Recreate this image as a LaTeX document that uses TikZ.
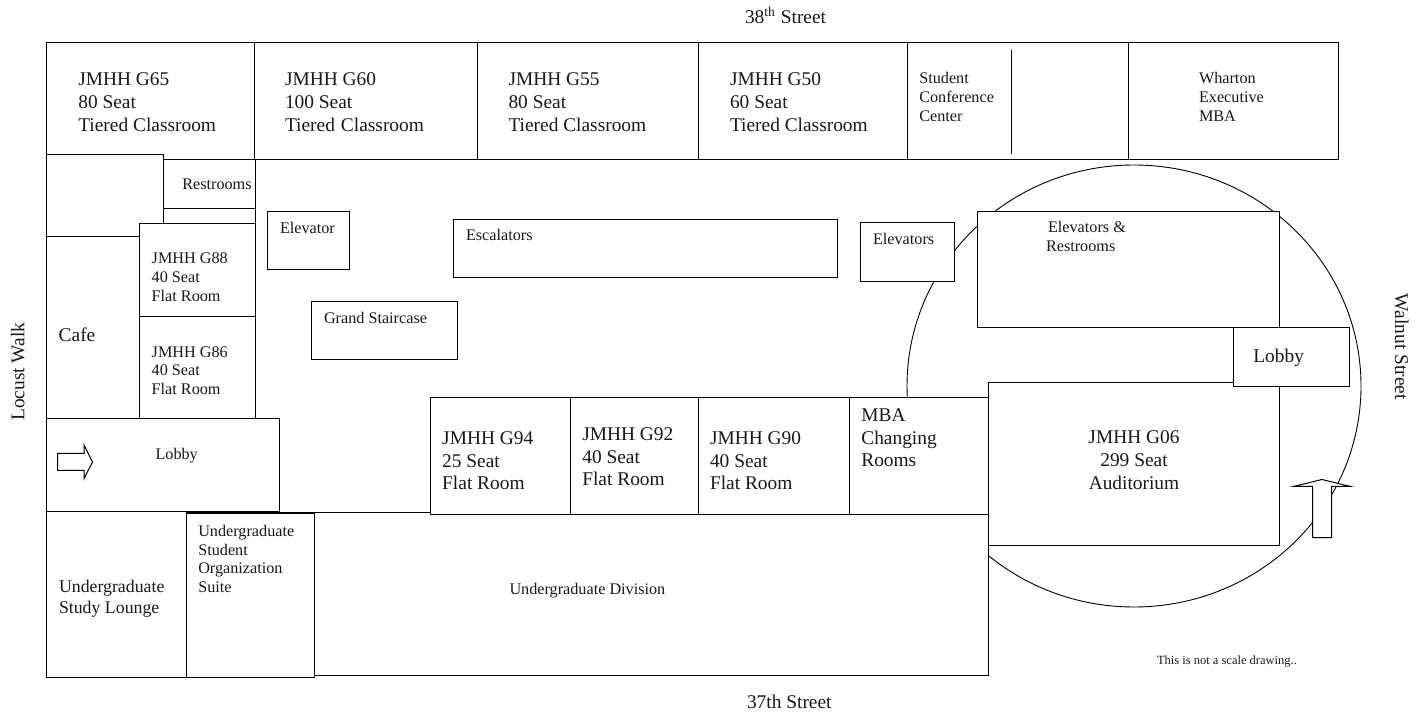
\documentclass[tikz,border=0pt]{standalone}
\usepackage{fontspec}
\setmainfont{Liberation Serif}
\newlength{\pxu}\setlength{\pxu}{0.5pt}
\newcommand{\lab}[6]{% name, x, first baseline y, size px, leading px, text
  \pgfmathsetmacro{\labsz}{#4*0.5}\pgfmathsetmacro{\labld}{#5*0.5}%
  \node[roomtext,font=\fontsize{\labsz pt}{\labld pt}\selectfont] (#1) at (#2,#3-#4)
    {\rule{0pt}{\labsz pt}#6};}
\tikzset{
  room/.style={draw=black,fill=white,line width=1*\pxu},
  hall/.style={draw=black,line width=0.9*\pxu},
  roomtext/.style={anchor=north west,inner sep=0pt,outer sep=0pt,align=left,text=black!90},
  streettext/.style={inner sep=0pt,outer sep=0pt,text=black!90,font=\fontsize{9.7pt}{11pt}\selectfont}
}
\begin{document}
\begin{tikzpicture}[x=0.5pt,y=-0.5pt]
\useasboundingbox (0,0) rectangle (1423,715);
\fill[white] (0,0) rectangle (1423,715);
% rotunda
\draw[hall] (1134,386) ellipse [x radius=227,y radius=221];
% undergraduate division
\draw[room] (186,512.5) rectangle (988.5,675.5);
\draw[room] (46,511.5) rectangle (186,677);
\draw[room] (186,514) rectangle (314,677);
% top row
\draw[room] (46,43) rectangle (254,159.5);
\draw[room] (254,43) rectangle (477,159.5);
\draw[room] (477,43) rectangle (698,159.5);
\draw[room] (698,43) rectangle (907,159.5);
\draw[room] (907,43) rectangle (1128,159.5);
\draw[room] (1128,43) rectangle (1338,159.5);
\draw[room] (1011.7,50) -- (1011.7,154);
% left column
\draw[room] (46,155) rectangle (163,237);
\draw[room] (163,160) rectangle (255.5,209);
\draw[room] (163,209) rectangle (255.5,224);
\draw[room] (46,237) rectangle (139,418.5);
\draw[room] (139,223.5) rectangle (255.5,316.5);
\draw[room] (139,316.5) rectangle (255.5,418.5);
\draw[room] (46,418.5) rectangle (279,511.5);
% core
\draw[room] (267,211.5) rectangle (349,270);
\draw[room] (311.5,302) rectangle (457,360);
\draw[room] (453,219.5) rectangle (837.5,278);
\draw[room] (860.5,223) rectangle (954,282);
\draw[room] (977,211.5) rectangle (1279.5,328);
% bottom row
\draw[room] (430,398) rectangle (570,514.5);
\draw[room] (570,398) rectangle (698,514.5);
\draw[room] (698,398) rectangle (849,514.5);
\draw[room] (849,398) rectangle (988.5,514.5);
\draw[room] (988.5,382.5) rectangle (1279.5,545.5);
\draw[room] (1233,328) rectangle (1349.5,386.5);
% arrows
\draw[room,line join=miter] (57.5,453.5) -- (84,453.5) -- (84,445) -- (92.5,462) -- (84,478.7) -- (84,470.5) -- (57.5,470.5) -- cycle;
\draw[room,line join=miter] (1312.5,537.5) -- (1312.5,486.5) -- (1293.5,486.5) -- (1322,479.5) -- (1350.5,486.5) -- (1331.5,486.5) -- (1331.5,537.5) -- cycle;
% labels
\lab{g65}{78.3}{86}{19.4}{22.6}{JMHH G65\\80 Seat\\Tiered Classroom}
\lab{g60}{285}{86}{19.4}{22.6}{JMHH G60\\100 Seat\\Tiered\kern0.6pt{} Classroom}
\lab{g55}{508.5}{86}{19.4}{22.6}{JMHH G55\\80 Seat\\Tiered Classroom}
\lab{g50}{730}{86}{19.4}{22.6}{JMHH G50\\60 Seat\\Tiered Classroom}
\lab{scc}{919.3}{83.3}{16.2}{19.2}{Student\\Conference\\Center}
\lab{wem}{1199}{83.3}{16.2}{19.2}{Wharton\\Executive\\MBA}
\lab{rest}{182.3}{190}{16.2}{19}{Restrooms}
\lab{elev}{280}{234}{16.2}{19}{Elevator}
\lab{esc}{466}{241}{16.2}{19}{Escalators}
\lab{elevs}{873}{245}{16.2}{19}{Elevators}
\lab{er}{1046}{233}{16.2}{19}{\hspace{1pt}Elevators \&\\Restrooms}
\lab{stair}{324}{324}{16.2}{19}{Grand Staircase}
\lab{g88}{151.7}{263.5}{16.2}{19}{JMHH G88\\40 Seat\\Flat Room}
\lab{g86}{151.7}{357.3}{16.2}{18.7}{JMHH G86\\40 Seat\\Flat Room}
\lab{cafe}{58.7}{341.5}{19.4}{22}{Cafe}
\lab{lobbyw}{155.5}{459.3}{16.2}{19}{Lobby}
\lab{lobbye}{1253.3}{362.5}{19.4}{22}{Lobby}
\lab{usl}{59}{592.5}{17.8}{20.6}{Undergraduate\\Study Lounge}
\lab{suite}{198.3}{536.7}{16.2}{18.6}{Undergraduate\\Student\\Organization\\Suite}
\lab{ud}{509.5}{594}{16.2}{19}{Undergraduate Division}
\lab{g94}{442.2}{445}{19.4}{22.5}{JMHH G94\\25 Seat\\Flat Room}
\lab{g92}{582.3}{441}{19.4}{22.5}{JMHH G92\\40 Seat\\Flat Room}
\lab{g90}{710}{445}{19.4}{22.2}{JMHH G90\\40 Seat\\Flat Room}
\lab{mba}{861.3}{421.7}{19.4}{22.5}{MBA\\Changing\\Rooms}
\node[roomtext,anchor=north,align=center,font=\fontsize{9.7pt}{11.4pt}\selectfont] (g06) at (1134,424.5)
  {\rule{0pt}{9.7pt}JMHH G06\\299 Seat\\Auditorium};
\lab{note}{1157}{664}{12.5}{15}{This is not a scale drawing..}
\node[streettext,anchor=base west] (n38) at (745,23.5) {38\textsuperscript{th} Street};
\node[streettext,anchor=base west] (n37) at (747,708.5) {37th Street};
\node[streettext,anchor=base west,rotate=90] (locust) at (24.5,420.7) {Locust Walk};
\node[streettext,anchor=base west,rotate=-90] (walnut) at (1395,294) {Walnut Street};
\end{tikzpicture}
\end{document}
